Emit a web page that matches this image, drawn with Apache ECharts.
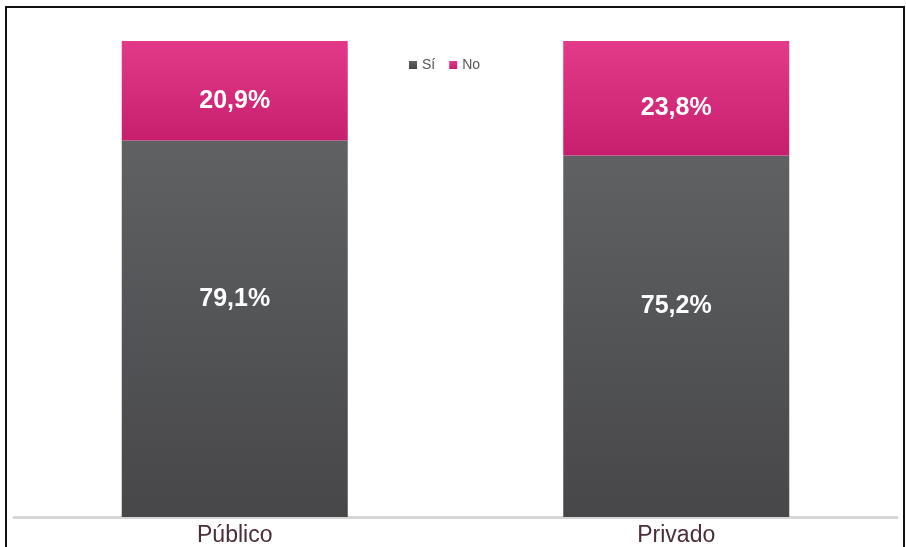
<!DOCTYPE html>
<html>
<head>
<meta charset="utf-8">
<script src="https://cdn.jsdelivr.net/npm/echarts@6/dist/echarts.min.js"></script>
<style>
html,body{margin:0;padding:0;background:#fff;}
#chart{width:906px;height:547px;}
</style>
</head>
<body>
<div id="chart"></div>
<script>
const categories = ['Público', 'Privado'];
const siValues = [79.1, 75.2];
const noValues = [20.9, 23.8];
const seriesNames = ['Sí', 'No'];

// 100% stacked: each bar is scaled to its own total
const totals = categories.map((c, i) => siValues[i] + noValues[i]);
const siShare = siValues.map((v, i) => ({ value: v / totals[i] * 100, raw: v }));
const noShare = noValues.map((v, i) => ({ value: v / totals[i] * 100, raw: v }));

const fmt = p => p.data.raw.toFixed(1).replace('.', ',') + '%';

const chart = echarts.init(document.getElementById('chart'), null, { renderer: 'canvas' });
chart.setOption({
  animation: false,
  backgroundColor: '#ffffff',
  graphic: [{
    type: 'rect',
    shape: { x: 6, y: 7, width: 898, height: 545 },
    style: { fill: 'none', stroke: '#111', lineWidth: 2 },
    z: 100
  }],
  legend: {
    data: seriesNames,
    left: 404,
    top: 53,
    itemWidth: 8,
    itemHeight: 8,
    itemGap: 14,
    icon: 'rect',
    textStyle: { fontFamily: 'Liberation Sans Narrow, Liberation Sans, Arial', fontSize: 14, color: '#555' }
  },
  grid: { left: 14, right: 9, top: 41, bottom: 28, containLabel: false },
  xAxis: {
    type: 'category',
    data: categories,
    axisLine: { show: true, lineStyle: { color: '#d6d6d6', width: 3 } },
    axisTick: { show: false },
    axisLabel: {
      margin: 7,
      fontFamily: 'Liberation Sans, Arial',
      fontSize: 23,
      color: '#4a2d3a'
    }
  },
  yAxis: {
    type: 'value',
    min: 0,
    max: 100,
    show: false,
    splitLine: { show: false }
  },
  series: [
    {
      name: seriesNames[0],
      type: 'bar',
      stack: 'total',
      barWidth: 226,
      data: siShare,
      itemStyle: {
        color: new echarts.graphic.LinearGradient(0, 0, 0, 1, [
          { offset: 0, color: '#5f6163' },
          { offset: 1, color: '#47474a' }
        ])
      },
      label: {
        show: true,
        position: 'inside',
        offset: [0, -30],
        formatter: fmt,
        color: '#ffffff',
        fontFamily: 'Liberation Sans, Arial',
        fontWeight: 'bold',
        fontSize: 25
      }
    },
    {
      name: seriesNames[1],
      type: 'bar',
      stack: 'total',
      barWidth: 226,
      data: noShare,
      itemStyle: {
        color: new echarts.graphic.LinearGradient(0, 0, 0, 1, [
          { offset: 0, color: '#e3398a' },
          { offset: 1, color: '#c71f6d' }
        ])
      },
      label: {
        show: true,
        position: 'inside',
        offset: [0, 10],
        formatter: fmt,
        color: '#ffffff',
        fontFamily: 'Liberation Sans, Arial',
        fontWeight: 'bold',
        fontSize: 25
      }
    }
  ]
});
</script>
</body>
</html>
